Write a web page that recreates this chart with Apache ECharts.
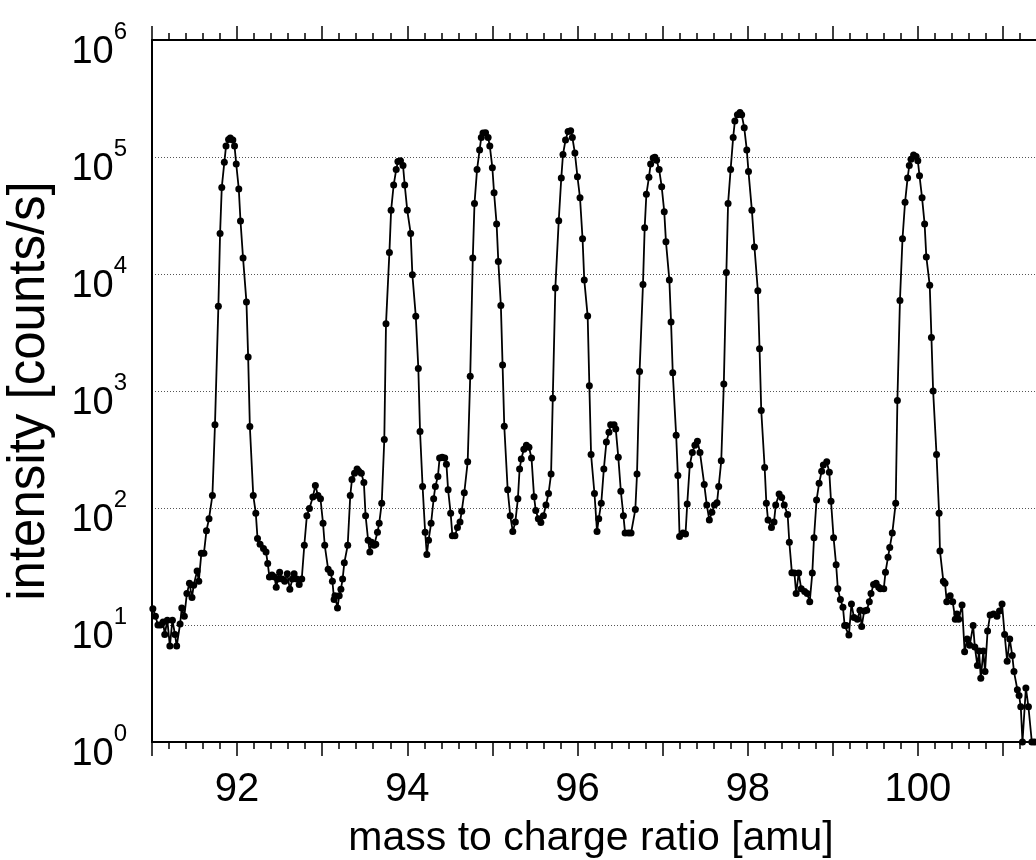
<!DOCTYPE html>
<html><head><meta charset="utf-8">
<script src="https://cdn.jsdelivr.net/npm/echarts@6/dist/echarts.min.js"></script>
<style>html,body{margin:0;padding:0;background:#fff;overflow:hidden}#c{width:1036px;height:860px}</style>
</head><body><div id="c"></div>
<script>
const mass = [
91.01,91.04,91.07,91.10,91.13,91.15,91.18,91.21,91.24,91.27,91.29,91.33,91.35,91.38,91.41,91.44,91.47,91.49,91.53,91.55,
91.58,91.61,91.64,91.67,91.71,91.74,91.78,91.80,91.82,91.85,91.87,91.90,91.92,91.95,91.97,91.99,92.02,92.04,92.07,92.11,
92.13,92.15,92.19,92.22,92.24,92.27,92.31,92.34,92.36,92.38,92.41,92.44,92.46,92.48,92.50,92.53,92.56,92.59,92.62,92.65,
92.67,92.70,92.73,92.76,92.79,92.82,92.85,92.89,92.92,92.95,92.98,93.01,93.03,93.07,93.10,93.12,93.14,93.15,93.18,93.20,
93.22,93.24,93.26,93.30,93.33,93.35,93.38,93.41,93.43,93.46,93.49,93.51,93.54,93.56,93.58,93.61,93.63,93.65,93.67,93.70,
93.73,93.75,93.79,93.81,93.84,93.87,93.89,93.92,93.95,93.97,94.00,94.04,94.06,94.10,94.13,94.15,94.18,94.21,94.23,94.25,
94.28,94.31,94.33,94.36,94.38,94.41,94.44,94.46,94.48,94.51,94.53,94.56,94.59,94.62,94.64,94.67,94.71,94.74,94.77,94.79,
94.82,94.85,94.87,94.89,94.92,94.95,94.97,95.00,95.02,95.05,95.07,95.10,95.12,95.14,95.18,95.21,95.24,95.27,95.30,95.32,
95.34,95.37,95.40,95.43,95.46,95.49,95.51,95.54,95.57,95.60,95.63,95.66,95.69,95.71,95.74,95.78,95.81,95.83,95.86,95.89,
95.92,95.94,95.97,96.00,96.03,96.06,96.08,96.12,96.14,96.16,96.20,96.23,96.25,96.28,96.31,96.34,96.37,96.39,96.43,96.45,
96.48,96.51,96.54,96.56,96.60,96.63,96.68,96.70,96.73,96.77,96.79,96.81,96.84,96.86,96.89,96.91,96.93,96.96,96.99,97.02,
97.04,97.08,97.10,97.12,97.16,97.18,97.20,97.24,97.27,97.29,97.32,97.35,97.38,97.41,97.44,97.49,97.52,97.55,97.58,97.61,
97.64,97.66,97.69,97.72,97.75,97.77,97.80,97.83,97.85,97.88,97.91,97.93,97.96,97.99,98.01,98.05,98.08,98.12,98.14,98.16,
98.20,98.22,98.24,98.28,98.31,98.33,98.37,98.40,98.43,98.47,98.49,98.52,98.55,98.57,98.60,98.63,98.67,98.70,98.73,98.76,
98.78,98.81,98.84,98.87,98.89,98.93,98.96,98.98,99.01,99.04,99.06,99.09,99.12,99.14,99.16,99.19,99.22,99.25,99.29,99.32,
99.34,99.37,99.40,99.43,99.45,99.48,99.51,99.54,99.56,99.60,99.62,99.65,99.67,99.70,99.74,99.76,99.79,99.82,99.85,99.88,
99.90,99.92,99.95,99.98,100.00,100.02,100.05,100.08,100.10,100.14,100.16,100.18,100.22,100.25,100.26,100.30,100.32,100.34,100.38,100.41,
100.44,100.46,100.48,100.52,100.55,100.58,100.61,100.65,100.67,100.70,100.72,100.74,100.77,100.79,100.82,100.85,100.89,100.93,100.96,100.99,
101.02,101.05,101.08,101.11,101.13,101.17,101.19,101.21,101.23,101.27,101.30,101.34,101.37
];
const intensity = [
13.8,11.9,10,10,10.6,8.3,11,6.6,11,8.3,6.6,10.2,14,11.9,18.6,22.7,17.2,21.9,29,23.7,
41,41,64,81,128,514,5300,22200,55000,90000,124000,141000,145000,140000,124000,87000,53300,28400,13700,5750,
1950,497,128,90,55,49,45,42,33.6,25.7,26.8,25.7,21,24.7,28.3,24.7,23.7,27.4,20.2,24.7,
27.4,24.7,22.2,24.7,48,86,99,124,156,128,120,74,48,30,28,23.7,16.5,17.8,14,17.8,
20.2,24.7,34,48,128,175,198,215,206,198,165,86,53,42,51,48,49,62,74,110,
385,3750,15300,35000,57600,78000,91700,93000,84600,57600,35000,22200,9850,4360,1560,450,153,62,40,53,
74,120,153,186,268,272,268,237,143,90,58,58,68,76,94,135,248,1340,13700,40000,
78000,115000,147000,160000,161000,147000,124000,81000,49500,26700,12800,5380,1670,500,143,86,63,76,120,215,
262,318,343,330,268,125,95,81,75,86,106,133,195,865,7600,28500,66300,105000,140000,165000,
168000,147000,108000,67800,44800,20000,8900,4370,1110,286,133,63,81,110,215,366,443,514,514,474,
272,139,86,61,61,61,97,195,1470,8150,24800,48000,67000,87000,98000,99500,93700,78000,55700,34100,
18900,8900,3890,1430,419,190,57,61,60,108,233,298,343,372,298,159,106,79,92,106,
111,153,253,1150,10300,40000,78000,147000,203000,230000,240000,230000,178000,115000,75000,35000,17000,7200,2300,682,
222,110,79,68,76,106,132,123,106,88,51,28,27.8,18.6,27.8,20.4,19.3,18.6,15.8,27.8,
55.7,117,163,206,233,248,202,114,55.7,32.7,20.4,16.5,14.2,9.9,9.9,8.2,15.1,11.6,11.2,13.4,
9.7,13.2,13.4,15.8,18.6,22.2,22.7,21,20.4,20.4,28.3,38,46,61,110,830,5950,20000,41000,66300,
84600,95500,104000,101000,93000,69000,44800,26700,14000,8000,2860,1000,286,90,43,23.7,22.7,15.8,17.8,15.8,
11.2,12.4,11.2,14.8,5.9,7.6,6.7,9.9,6.5,4.5,6.0,3.5,6.0,4.0,8.9,12.2,12.4,11.9,13.2,15.1,
8.3,4.9,7.6,5.5,4.0,2.8,2.5,2.0,1,2.9,2.0,1,1
];
const xTickLabels = [92, 94, 96, 98, 100];
const yDecades = [0, 1, 2, 3, 4, 5, 6];

const FONT = "'Liberation Sans', Arial, Helvetica, sans-serif";
const chart = echarts.init(document.getElementById('c'), null, {renderer: 'canvas'});

function xAxisBase(pos) {
  return {
    type: 'value', position: pos, min: 91, max: 102, interval: 1,
    axisLine: {show: true, onZero: false, lineStyle: {color: '#000', width: 2}},
    axisTick: {show: true, length: 14, lineStyle: {color: '#000', width: 1.5}},
    minorTick: {show: true, splitNumber: 5, length: 7, lineStyle: {color: '#000', width: 1.5}},
    splitLine: {show: false}, minorSplitLine: {show: false}
  };
}

const xb = xAxisBase('bottom');
xb.axisLabel = {
  show: true, margin: 28, fontSize: 40, fontFamily: FONT, color: '#000',
  formatter: v => {
    const r = Math.round(v);
    return (Math.abs(v - r) < 1e-6 && xTickLabels.indexOf(r) >= 0) ? String(r) : '';
  }
};
xb.name = 'mass to charge ratio [amu]';
xb.nameLocation = 'middle';
xb.nameGap = 76;
xb.nameTextStyle = {fontSize: 41, fontFamily: FONT, color: '#000', padding: [0, 58, 0, 0]};

const xt = xAxisBase('top');
xt.axisLabel = {show: false};

const option = {
  animation: false,
  backgroundColor: '#fff',
  grid: {left: 152, right: -52, top: 40, bottom: 118, containLabel: false, outerBoundsMode: 'none'},
  xAxis: [xb, xt],
  yAxis: {
    type: 'log', logBase: 10, min: 1, max: 1e6,
    axisLine: {show: true, lineStyle: {color: '#000', width: 2}},
    axisTick: {show: false},
    splitLine: {show: true, lineStyle: {color: '#555', width: 1, type: [1, 2]}},
    axisLabel: {
      show: true, margin: 25, padding: [12, 0, 0, 0],
      formatter: v => {
        const e = Math.round(Math.log10(v));
        return yDecades.indexOf(e) >= 0 ? '{b|10}{e|' + e + '}' : '';
      },
      rich: {
        b: {fontSize: 38, fontFamily: FONT, color: '#000', lineHeight: 52, verticalAlign: 'bottom'},
        e: {fontSize: 24, fontFamily: FONT, color: '#000', lineHeight: 24, verticalAlign: 'top'}
      }
    },
    name: 'intensity [counts/s]',
    nameLocation: 'middle',
    nameGap: 97,
    nameRotate: 90,
    nameTextStyle: {fontSize: 51, fontFamily: FONT, color: '#000'}
  },
  series: [{
    type: 'line',
    data: mass.map((m, i) => [m, intensity[i]]),
    symbol: 'circle', symbolSize: 7, showSymbol: true,
    lineStyle: {color: '#000', width: 1.8},
    itemStyle: {color: '#000'},
    clip: true,
    z: 3
  }]
};
chart.setOption(option);
</script>
</body></html>
